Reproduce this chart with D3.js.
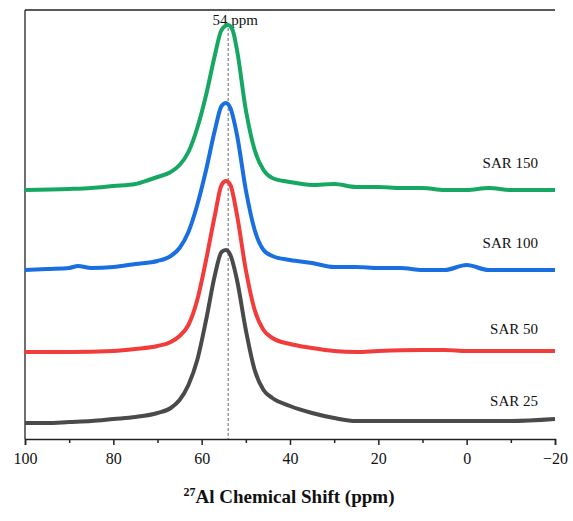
<!DOCTYPE html>
<meta charset="utf-8">
<style>body{margin:0;background:#fff}text{font-family:"Liberation Serif","Times New Roman",serif}</style>
<script src="https://d3js.org/d3.v7.min.js"></script>
<div id="chart"></div>
<script>
// spectra as [ppm, intensity] (intensity in arbitrary stacked units)
const sar25 = [[100,16],[95,16],[90,17],[85,18],[80,20],[75,22],[70,26],[67,31],[65,39],[63,54],[61,79],[59,119],[57,164],[55.5,187],[54.5,189],[53.5,184],[52,159],[50,109],[48,69],[46,49],[44,41],[40,33],[35,26],[30,21],[25,18],[20,18],[10,18],[0,18],[-10,18],[-20,20]];
const sar50 = [[100,87],[90,87],[80,88],[75,90],[70,93],[67,97],[65,103],[63,114],[61,139],[59,179],[57,224],[55.5,254],[54.5,258],[53.5,254],[52,224],[50,169],[48,129],[46,109],[44,101],[40,95],[35,91],[30,88],[25,87],[20,88],[10,89],[5,89],[0,88],[-10,88],[-20,88]];
const sar100 = [[100,169],[95,170],[90,171],[88,173],[85,171],[80,172],[75,175],[70,178],[67,183],[65,191],[63,207],[61,234],[59,269],[57,309],[55.5,333],[54.5,336],[53.5,331],[52,304],[50,249],[48,209],[46,189],[44,183],[40,179],[35,176],[30,172],[25,172],[20,171],[15,171],[10,169],[5,169],[0,174],[-5,169],[-10,169],[-20,169]];
const sar150 = [[100,249],[90,250],[85,251],[80,253],[75,255],[72,259],[70,262],[67,267],[65,274],[63,287],[61,311],[59,344],[57,384],[55.5,409],[54,414],[53,409],[52,389],[50,329],[48,289],[46,269],[44,261],[40,257],[35,254],[30,255],[25,252],[20,252],[15,251],[10,251],[5,249],[0,249],[-5,251],[-10,249],[-20,249]];
const series = [
  {name: "SAR 25", data: sar25, color: "#4a4a4a", lx: -17, ly: 406},
  {name: "SAR 50", data: sar50, color: "#f23c3c", lx: -17, ly: 334},
  {name: "SAR 100", data: sar100, color: "#1a6fe0", lx: -17, ly: 248},
  {name: "SAR 150", data: sar150, color: "#16a862", lx: -17, ly: 168}
];
const xTicks = [100, 80, 60, 40, 20, 0, -20];

const W = 573, H = 521;
const mLeft = 25, mRight = 555, mTop = 10, mBottom = 439;
const svg = d3.select("#chart").append("svg").attr("width", W).attr("height", H);

const x = d3.scaleLinear().domain([100, -20]).range([mLeft, mRight]);
const y = d3.scaleLinear().domain([0, 429]).range([mBottom, mTop]);

// frame
svg.append("line").attr("x1", mLeft).attr("x2", mRight).attr("y1", mTop).attr("y2", mTop).attr("stroke", "#222").attr("stroke-width", 1.3);
svg.append("line").attr("x1", mLeft).attr("x2", mLeft).attr("y1", mTop).attr("y2", mBottom).attr("stroke", "#222").attr("stroke-width", 1.3);

const xAxis = svg.append("g").attr("transform", "translate(0," + mBottom + ")")
  .call(d3.axisBottom(x).tickValues(d3.range(100, -21, -10)).tickSize(6)
    .tickFormat(d => xTicks.includes(d) ? (d < 0 ? "\u2212" + (-d) : d) : ""));
xAxis.select(".domain").attr("stroke", "#222").attr("stroke-width", 1.5);
xAxis.selectAll(".tick line").attr("stroke", "#222").attr("stroke-width", 1.5)
  .attr("y2", d => xTicks.includes(d) ? 6 : 4);
xAxis.selectAll(".tick text").attr("font-size", "16px").attr("fill", "#111").attr("dy", "1em")
  .style("font-family", '"Liberation Serif", serif');

// 54 ppm marker
svg.append("line").attr("x1", x(54)).attr("x2", x(54)).attr("y1", 28).attr("y2", mBottom)
  .attr("stroke", "#666").attr("stroke-width", 1).attr("stroke-dasharray", "3,2");
svg.append("text").attr("x", x(54) + 7).attr("y", 25).attr("text-anchor", "middle")
  .attr("font-size", "15px").attr("fill", "#111").text("54 ppm");

const line = d3.line().x(d => x(d[0])).y(d => y(d[1])).curve(d3.curveMonotoneX);
series.forEach(s => {
  svg.append("path").datum(s.data.slice().reverse()).attr("d", line)
    .attr("fill", "none").attr("stroke", s.color).attr("stroke-width", 4).attr("stroke-linejoin", "round");
  svg.append("text").attr("x", x(-20) + s.lx).attr("y", s.ly).attr("text-anchor", "end")
    .attr("font-size", "15px").attr("fill", "#111").text(s.name);
});

const title = svg.append("text").attr("x", 289).attr("y", 503).attr("text-anchor", "middle")
  .attr("font-size", "19px").attr("font-weight", "bold").attr("fill", "#111");
title.append("tspan").attr("font-size", "12px").attr("dy", "-7").text("27");
title.append("tspan").attr("dy", "7").text("Al Chemical Shift (ppm)");
</script>
